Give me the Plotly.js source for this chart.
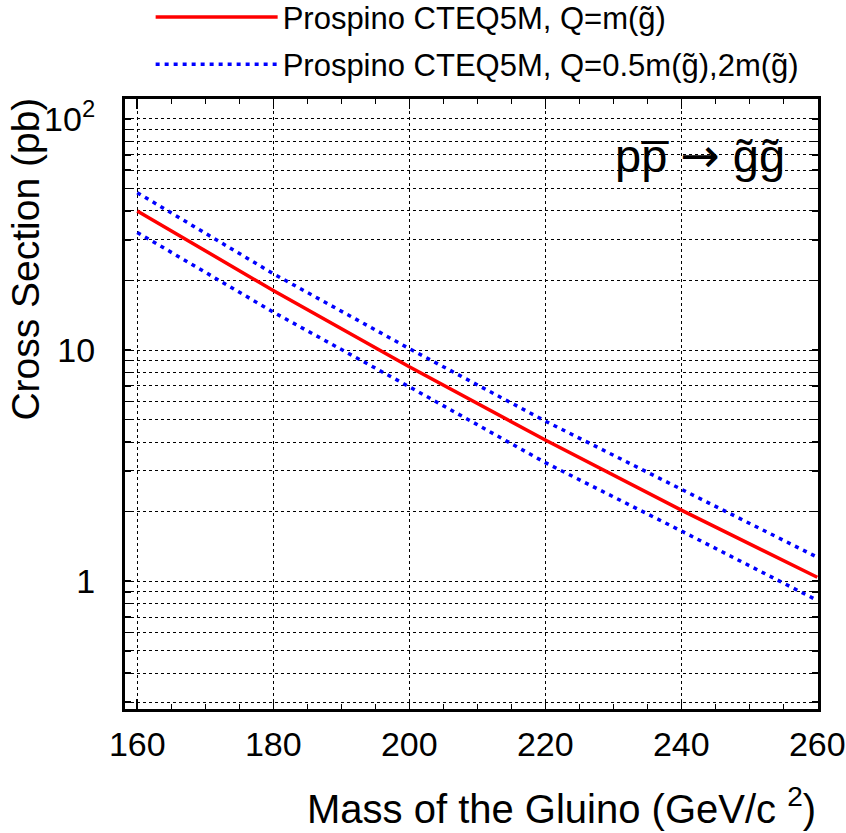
<!DOCTYPE html>
<html>
<head>
<meta charset="utf-8">
<script src="https://cdn.plot.ly/plotly-3.0.1.min.js"></script>
<style>html,body{margin:0;padding:0;background:#fff;}#chart{width:846px;height:833px;}</style>
</head>
<body>
<div id="chart"></div>
<script>
// Gluino mass (GeV/c^2)
const mass = [160, 180, 200, 220, 240, 260];
// Cross sections (pb)
const xsecCentral = [40.0, 18.1, 8.47, 4.08, 2.03, 1.04];
const xsecUpper   = [48.0, 21.4, 10.15, 4.93, 2.50, 1.27];
const xsecLower   = [32.3, 14.6, 6.94, 3.26, 1.65, 0.826];
const yTickVals = [0.3,0.4,0.5,0.6,0.7,0.8,0.9,1,2,3,4,5,6,7,8,9,10,20,30,40,50,60,70,80,90,100];
const yTickText = yTickVals.map(v => v === 1 ? '1' : v === 10 ? '10' : v === 100 ? '10<sup>2</sup>' : '');
const xTickVals = [160, 180, 200, 220, 240, 260];

const FONT = 'Liberation Sans, Arial, Helvetica, sans-serif';

const traces = [
  {x: mass, y: xsecCentral, type: 'scatter', mode: 'lines',
   name: 'Prospino CTEQ5M, Q=m(g\u0303)', legendgroup: 'a',
   line: {color: '#ff0000', width: 3.5}},
  {x: mass, y: xsecUpper, type: 'scatter', mode: 'lines',
   name: 'Prospino CTEQ5M, Q=0.5m(g\u0303),2m(g\u0303)', legendgroup: 'b',
   line: {color: '#0000ff', width: 3.5, dash: '4px,5px'}},
  {x: mass, y: xsecLower, type: 'scatter', mode: 'lines',
   name: 'lower', legendgroup: 'b', showlegend: false,
   line: {color: '#0000ff', width: 3.5, dash: '4px,5px'}}
];

const layout = {
  width: 846, height: 833,
  margin: {l: 125, r: 28, t: 99, b: 124, autoexpand: false},
  paper_bgcolor: '#fff', plot_bgcolor: '#fff',
  font: {family: FONT, color: '#000', size: 30},
  showlegend: true,
  legend: {x: 0.037, xanchor: 'left', y: 1.178, yanchor: 'top',
           bgcolor: 'rgba(0,0,0,0)', font: {size: 31, family: FONT},
           tracegroupgap: 4, itemwidth: 122},
  xaxis: {
    range: [158.2, 260.1], showline: true, linewidth: 3, linecolor: '#000',
    mirror: 'all', ticks: 'inside', ticklen: 10, tickwidth: 1.5, tickcolor: '#000',
    tickvals: xTickVals, ticktext: xTickVals.map(String),
    tickfont: {size: 34, family: FONT}, ticklabelstandoff: 3,
    showgrid: true, gridcolor: '#000', gridwidth: 1, griddash: 'dot',
    minor: {dtick: 5, tick0: 160, ticks: 'inside', ticklen: 5, tickcolor: '#000', tickwidth: 1.5, showgrid: false},
    zeroline: false
  },
  yaxis: {
    type: 'log', range: [Math.log10(0.28), Math.log10(122)],
    showline: true, linewidth: 3, linecolor: '#000',
    mirror: 'all', ticks: 'inside', ticklen: 6, tickwidth: 1.5, tickcolor: '#000',
    tickvals: yTickVals, ticktext: yTickText,
    tickfont: {size: 34, family: FONT}, ticklabelstandoff: 20,
    showgrid: true, gridcolor: '#000', gridwidth: 1, griddash: 'dot',
    zeroline: false
  },
  annotations: [
    {text: 'Mass of the Gluino (GeV/c <sup>2</sup>)', xref: 'paper', yref: 'paper',
     x: 1.0, xanchor: 'right', y: -0.115, yanchor: 'top', showarrow: false,
     font: {size: 40, family: FONT}},
    {text: 'Cross Section (pb)', xref: 'paper', yref: 'paper', textangle: -90,
     x: -0.178, xanchor: 'left', y: 1.005, yanchor: 'top', showarrow: false,
     font: {size: 39, family: FONT}},
    {text: 'pp\u0305 <span style="font-family:DejaVu Sans">\u2192</span> g\u0303g\u0303', xref: 'paper', yref: 'paper',
     x: 0.955, xanchor: 'right', y: 0.908, yanchor: 'middle', showarrow: false,
     font: {size: 47, family: FONT}}
  ]
};

Plotly.newPlot('chart', traces, layout, {displayModeBar: false, staticPlot: true});
</script>
</body>
</html>
